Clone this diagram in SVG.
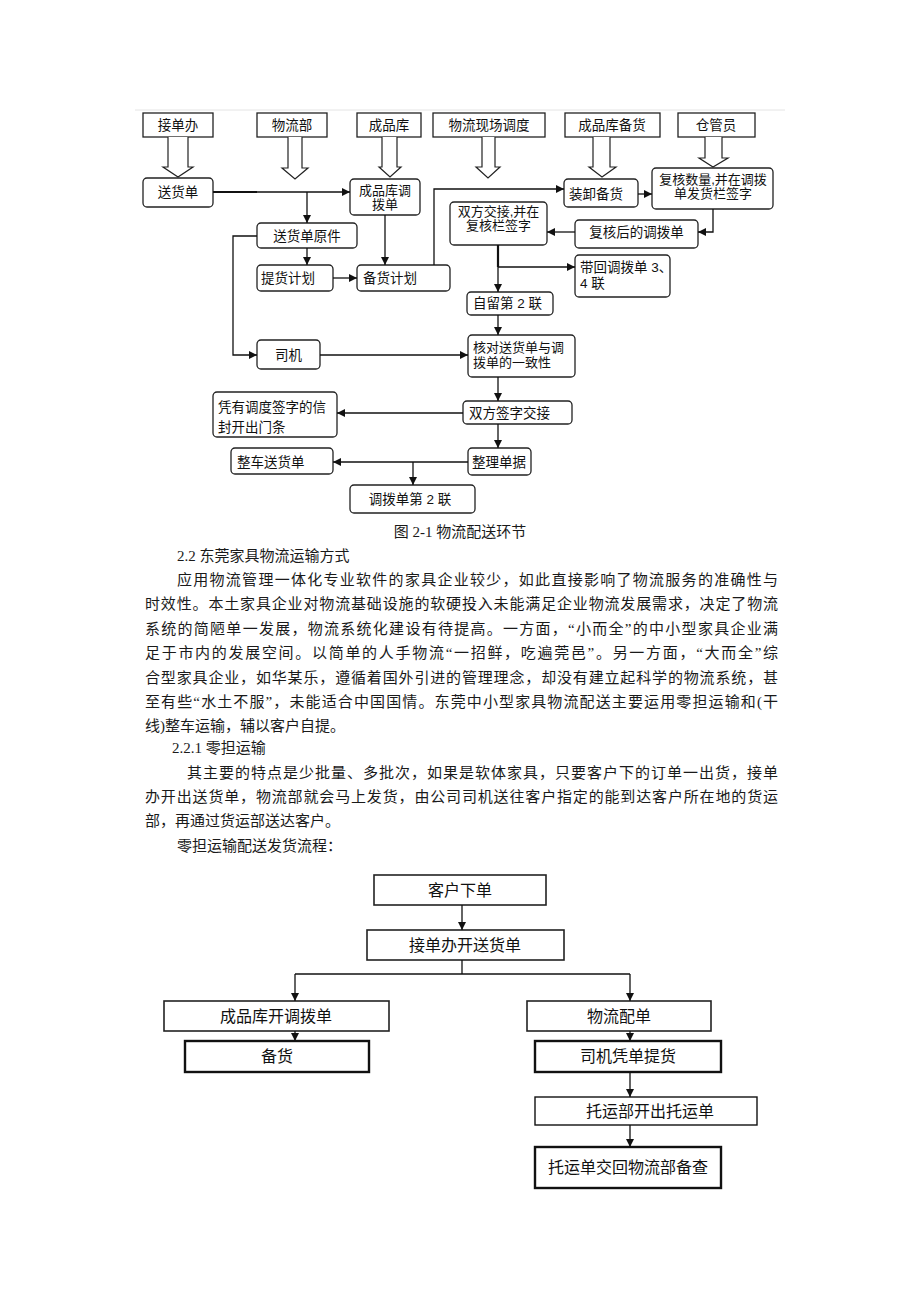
<svg xmlns="http://www.w3.org/2000/svg" width="920" height="1302" viewBox="0 0 920 1302">
<defs>
<style>
.bx{fill:#fff;stroke:#222;stroke-width:1.3}
.hd{fill:#fff;stroke:#222;stroke-width:1.3}
.ba{fill:#fff;stroke:#222;stroke-width:1.2}
.t{font-family:"Liberation Sans","Noto Sans CJK SC",sans-serif;font-size:13.5px;fill:#111}
.tm{font-size:13px}
.c{text-anchor:middle}
.ln{fill:none;stroke:#111;stroke-width:1.3}
.lnk{fill:none;stroke:#111;stroke-width:2.2}
.body{font-family:"Liberation Serif","Noto Sans CJK SC",serif;font-size:15px;fill:#1a1a1a}
.b2{fill:#fff;stroke:#222;stroke-width:1.6}
.b3{fill:#fff;stroke:#111;stroke-width:2.4}
.b1{fill:#fff;stroke:#111;stroke-width:1.4}
.t2{font-family:"Liberation Sans","Noto Sans CJK SC",sans-serif;font-size:16px;fill:#111;text-anchor:middle}
</style>
<marker id="ah" viewBox="0 0 10 10" refX="10" refY="5" markerWidth="8" markerHeight="8" markerUnits="userSpaceOnUse" orient="auto"><path d="M0,0 L10,5 L0,10 z" fill="#111"/></marker>
</defs>
<rect width="920" height="1302" fill="#fff"/>
<line x1="135" y1="110" x2="785" y2="110" stroke="#e4e4e4" stroke-width="1"/>

<!-- Figure 2-1 header nodes -->
<g id="h-jiedanban"><rect class="hd" x="143" y="113" width="70" height="24"/><text class="t c" x="178" y="130">接单办</text></g>
<g id="h-wuliubu"><rect class="hd" x="257" y="113" width="70" height="24"/><text class="t c" x="292" y="130">物流部</text></g>
<g id="h-chengpinku"><rect class="hd" x="357" y="113" width="64" height="24"/><text class="t c" x="389" y="130">成品库</text></g>
<g id="h-diaodu"><rect class="hd" x="433" y="113" width="112" height="24"/><text class="t c" x="489" y="130">物流现场调度</text></g>
<g id="h-beihuo"><rect class="hd" x="565" y="113" width="95" height="24"/><text class="t c" x="612" y="130">成品库备货</text></g>
<g id="h-cangguan"><rect class="hd" x="678" y="113" width="77" height="24"/><text class="t c" x="716" y="130">仓管员</text></g>

<!-- block arrows -->
<g id="block-arrows">
<path class="ba" d="M168,137 V167 H163 L178,177 L193,167 H188 V137"/>
<path class="ba" d="M288,137 V168 H282 L295,179 L308,168 H302 V137"/>
<path class="ba" d="M382,137 V167 H379 L390,177 L401,167 H397 V137"/>
<path class="ba" d="M482,137 V167 H476 L488,178 L500,167 H495 V137"/>
<path class="ba" d="M593,137 V167 H589 L602,177 L616,167 H610 V137"/>
<path class="ba" d="M705,137 V158 H699 L713,167 L728,158 H722 V137"/>
</g>

<!-- Figure 2-1 nodes -->
<g id="n-songhuodan"><rect class="bx" x="143" y="178" width="70" height="29" rx="4"/><text class="t c" x="178" y="197">送货单</text></g>
<g id="n-diaobodan"><rect class="bx" x="350" y="179" width="70" height="36" rx="4"/><text class="t tm c" x="385" y="195">成品库调</text><text class="t tm c" x="385" y="209">拨单</text></g>
<g id="n-yuanjian"><rect class="bx" x="257" y="223" width="100" height="25" rx="4"/><text class="t c" x="307" y="241">送货单原件</text></g>
<g id="n-tihuo"><rect class="bx" x="257" y="265" width="76" height="26" rx="4"/><text class="t" x="261" y="283">提货计划</text></g>
<g id="n-beihuojihua"><rect class="bx" x="357" y="265" width="93" height="26" rx="4"/><text class="t" x="363" y="283">备货计划</text></g>
<g id="n-siji"><rect class="bx" x="257" y="340" width="63" height="29" rx="4"/><text class="t c" x="288.5" y="360">司机</text></g>
<g id="n-zhuangxie"><rect class="bx" x="564" y="179" width="74" height="28" rx="4"/><text class="t" x="569" y="199">装卸备货</text></g>
<g id="n-fuhe"><rect class="bx" x="652" y="168" width="121" height="41" rx="4"/><text class="t tm c" x="713" y="184">复核数量,并在调拨</text><text class="t tm c" x="713" y="198">单发货栏签字</text></g>
<g id="n-fuhehou"><rect class="bx" x="575" y="220" width="123" height="28" rx="4"/><text class="t c" x="636.5" y="237">复核后的调拨单</text></g>
<g id="n-jiaojie"><rect class="bx" x="450" y="202" width="97" height="43" rx="4"/><text class="t tm c" x="498.5" y="216">双方交接,并在</text><text class="t tm c" x="498.5" y="230">复核栏签字</text></g>
<g id="n-daihui"><rect class="bx" x="575" y="255" width="95" height="42" rx="4"/><text class="t" x="580" y="272">带回调拨单 3、</text><text class="t" x="580" y="288">4 联</text></g>
<g id="n-ziliu"><rect class="bx" x="467" y="292" width="86" height="23" rx="4"/><text class="t" x="473" y="308">自留第 2 联</text></g>
<g id="n-hedui"><rect class="bx" x="468" y="335" width="107" height="42" rx="4"/><text class="t tm" x="473" y="352">核对送货单与调</text><text class="t tm" x="473" y="367">拨单的一致性</text></g>
<g id="n-qianzi"><rect class="bx" x="463" y="401" width="109" height="23" rx="4"/><text class="t" x="469" y="418">双方签字交接</text></g>
<g id="n-menTiao"><rect class="bx" x="213" y="392" width="124" height="45" rx="4"/><text class="t" x="218" y="412">凭有调度签字的信</text><text class="t" x="218" y="432">封开出门条</text></g>
<g id="n-zhengli"><rect class="bx" x="468" y="448" width="63" height="27" rx="4"/><text class="t" x="472" y="467">整理单据</text></g>
<g id="n-zhengche"><rect class="bx" x="231" y="448" width="102" height="26" rx="4"/><text class="t" x="237" y="467">整车送货单</text></g>
<g id="n-dier"><rect class="bx" x="350" y="485" width="125" height="28" rx="4"/><text class="t c" x="410" y="504">调拨单第 2 联</text></g>

<!-- Figure 2-1 connectors -->
<g id="connectors-1">
<line class="lnk" x1="213" y1="192" x2="257" y2="192"/>
<line class="ln" x1="257" y1="192" x2="350" y2="192" marker-end="url(#ah)"/>
<line class="ln" x1="307" y1="192" x2="307" y2="223" marker-end="url(#ah)"/>
<line class="ln" x1="307" y1="248" x2="307" y2="265" marker-end="url(#ah)"/>
<line class="ln" x1="385" y1="215" x2="385" y2="265" marker-end="url(#ah)"/>
<line class="ln" x1="333" y1="278" x2="357" y2="278" marker-end="url(#ah)"/>
<polyline class="ln" points="257,236 233,236 233,355 257,355" marker-end="url(#ah)"/>
<polyline class="ln" points="434,265 434,189 564,189" marker-end="url(#ah)"/>
<line class="ln" x1="638" y1="194" x2="652" y2="194" marker-end="url(#ah)"/>
<polyline class="ln" points="713,209 713,232 698,232" marker-end="url(#ah)"/>
<line class="ln" x1="575" y1="232" x2="547" y2="232" marker-end="url(#ah)"/>
<line class="lnk" x1="498" y1="245" x2="498" y2="267"/>
<line class="ln" x1="498" y1="267" x2="575" y2="267" marker-end="url(#ah)"/>
<line class="ln" x1="498" y1="267" x2="498" y2="292" marker-end="url(#ah)"/>
<line class="ln" x1="498" y1="315" x2="498" y2="335" marker-end="url(#ah)"/>
<line class="ln" x1="320" y1="355" x2="468" y2="355" marker-end="url(#ah)"/>
<line class="ln" x1="498" y1="377" x2="498" y2="401" marker-end="url(#ah)"/>
<line class="ln" x1="463" y1="413" x2="337" y2="413" marker-end="url(#ah)"/>
<line class="ln" x1="498" y1="424" x2="498" y2="448" marker-end="url(#ah)"/>
<line class="ln" x1="468" y1="462" x2="333" y2="462" marker-end="url(#ah)"/>
<line class="ln" x1="413" y1="462" x2="413" y2="485" marker-end="url(#ah)"/>
</g>

<!-- body text -->
<g id="body-text" class="body">
<text x="460" y="537" text-anchor="middle">图 2-1 物流配送环节</text>
<text x="177" y="561">2.2 东莞家具物流运输方式</text>
<text x="177" y="585" textLength="601" lengthAdjust="spacing">应用物流管理一体化专业软件的家具企业较少，如此直接影响了物流服务的准确性与</text>
<text x="145" y="609" textLength="633" lengthAdjust="spacing">时效性。本土家具企业对物流基础设施的软硬投入未能满足企业物流发展需求，决定了物流</text>
<text x="145" y="634" textLength="633" lengthAdjust="spacing">系统的简陋单一发展，物流系统化建设有待提高。一方面，“小而全”的中小型家具企业满</text>
<text x="145" y="658" textLength="633" lengthAdjust="spacing">足于市内的发展空间。以简单的人手物流“一招鲜，吃遍莞邑”。另一方面，“大而全”综</text>
<text x="145" y="683" textLength="633" lengthAdjust="spacing">合型家具企业，如华某乐，遵循着国外引进的管理理念，却没有建立起科学的物流系统，甚</text>
<text x="145" y="707" textLength="633" lengthAdjust="spacing">至有些“水土不服”，未能适合中国国情。东莞中小型家具物流配送主要运用零担运输和(干</text>
<text x="145" y="731">线)整车运输，辅以客户自提。</text>
<text x="172" y="753">2.2.1 零担运输</text>
<text x="187" y="778" textLength="591" lengthAdjust="spacing">其主要的特点是少批量、多批次，如果是软体家具，只要客户下的订单一出货，接单</text>
<text x="145" y="802" textLength="633" lengthAdjust="spacing">办开出送货单，物流部就会马上发货，由公司司机送往客户指定的能到达客户所在地的货运</text>
<text x="145" y="826">部，再通过货运部送达客户。</text>
<text x="177" y="851">零担运输配送发货流程：</text>
</g>

<!-- second flowchart nodes -->
<g id="m-kehu"><rect class="b2" x="374" y="875" width="172" height="30"/><text class="t2" x="460" y="896">客户下单</text></g>
<g id="m-jiedan"><rect class="b2" x="367" y="930" width="197" height="30"/><text class="t2" x="465" y="951">接单办开送货单</text></g>
<g id="m-chengpin"><rect class="b2" x="164" y="1001" width="225" height="30"/><text class="t2" x="276" y="1022">成品库开调拨单</text></g>
<g id="m-peidan"><rect class="b2" x="527" y="1001" width="184" height="30"/><text class="t2" x="619" y="1022">物流配单</text></g>
<g id="m-beihuo"><rect class="b3" x="185" y="1041" width="184" height="31"/><text class="t2" x="277" y="1062">备货</text></g>
<g id="m-siji"><rect class="b3" x="535" y="1041" width="186" height="31"/><text class="t2" x="628" y="1062">司机凭单提货</text></g>
<g id="m-tuoyun"><rect class="b1" x="535" y="1097" width="222" height="28"/><text class="t2" x="650" y="1117">托运部开出托运单</text></g>
<g id="m-jiaohui"><rect class="b3" x="535" y="1147" width="186" height="41"/><text class="t2" x="628" y="1173">托运单交回物流部备查</text></g>

<g id="connectors-2">
<line class="ln" x1="462" y1="905" x2="462" y2="930" marker-end="url(#ah)"/>
<line class="ln" x1="462" y1="960" x2="462" y2="974"/>
<line class="ln" x1="295" y1="974" x2="630" y2="974"/>
<line class="ln" x1="295" y1="974" x2="295" y2="1001" marker-end="url(#ah)"/>
<line class="ln" x1="630" y1="974" x2="630" y2="1001" marker-end="url(#ah)"/>
<line class="ln" x1="295" y1="1031" x2="295" y2="1041" marker-end="url(#ah)"/>
<line class="ln" x1="630" y1="1031" x2="630" y2="1041" marker-end="url(#ah)"/>
<line class="ln" x1="630" y1="1072" x2="630" y2="1097" marker-end="url(#ah)"/>
<line class="ln" x1="630" y1="1125" x2="630" y2="1147" marker-end="url(#ah)"/>
</g>
</svg>
